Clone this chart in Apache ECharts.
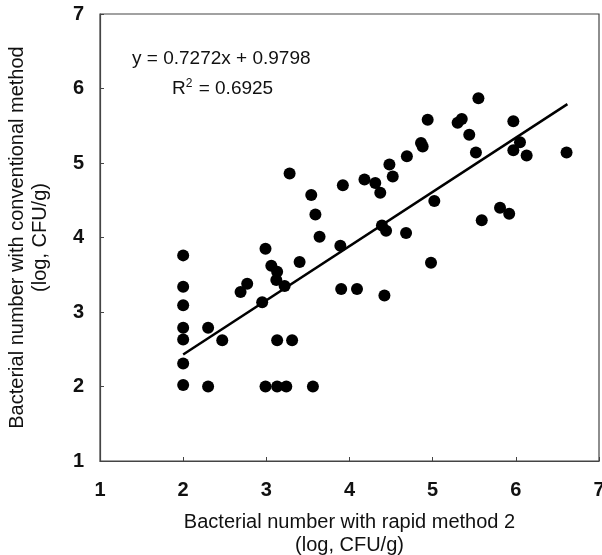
<!DOCTYPE html>
<html>
<head>
<meta charset="utf-8">
<script src="https://cdn.jsdelivr.net/npm/echarts@6/dist/echarts.min.js"></script>
<style>html,body{margin:0;padding:0;background:#fff}#c{width:602px;height:555px}</style>
</head>
<body>
<div id="c"></div>
<script>
// Data
const rapidX = [2.00, 2.00, 2.00, 2.00, 2.00, 2.00, 2.00,
  2.30, 2.30, 2.47, 2.69, 2.77, 2.95, 2.99, 3.06, 3.13, 3.12, 3.22, 3.40,
  3.13, 3.31, 2.99, 3.13, 3.24, 3.56, 3.28, 3.54, 3.59, 3.64, 3.89, 3.90,
  4.09, 4.42, 3.92, 4.18, 4.31, 4.37, 4.39, 4.44, 4.48, 4.52, 4.68, 4.69,
  4.86, 4.88, 4.94, 4.98, 5.02, 5.30, 5.35, 5.44, 5.52, 5.55, 5.59, 5.81,
  5.92, 5.97, 5.97, 6.05, 6.13, 6.61];
const conventionalY = [3.76, 3.34, 3.09, 2.79, 2.63, 2.31, 2.02,
  2.79, 2.00, 2.62, 3.27, 3.38, 3.13, 3.85, 3.62, 3.54, 3.43, 3.35, 3.67,
  2.62, 2.62, 2.00, 2.00, 2.00, 2.00, 4.86, 4.57, 4.31, 4.01, 3.89, 3.31,
  3.31, 3.22, 4.70, 4.78, 4.73, 4.60, 4.16, 4.09, 4.98, 4.82, 4.06, 5.09,
  5.27, 5.22, 5.58, 3.66, 4.49, 5.54, 5.59, 5.38, 5.14, 5.87, 4.23, 4.40,
  4.32, 5.56, 5.17, 5.28, 5.10, 5.14];
const trendX = [2.00, 6.62];
const trendY = [2.43, 5.79];
const xTicks = [1, 2, 3, 4, 5, 6, 7];
const yTicks = [1, 2, 3, 4, 5, 6, 7];
const equationText = 'y = 0.7272x + 0.9798';
const r2Text = 'R{sup|2} = 0.6925';
const xTitle = 'Bacterial number with rapid method 2\n(log, CFU/g)';
const yTitle = 'Bacterial number with conventional method\n(log, CFU/g)';

const points = rapidX.map((x, i) => [x, conventionalY[i]]);
const trend = trendX.map((x, i) => [x, trendY[i]]);

const chart = echarts.init(document.getElementById('c'), null, {renderer: 'canvas'});
const tickFont = {fontFamily: 'Liberation Sans Narrow, Liberation Sans, Arial', fontWeight: 'bold', fontSize: 20, color: '#111'};
const titleFont = {fontFamily: 'Liberation Sans, Arial', fontSize: 20, color: '#111', lineHeight: 23};

chart.setOption({
  animation: false,
  backgroundColor: '#fff',
  grid: {left: 100, right: 3, top: 14, bottom: 94, show: true, borderColor: '#444', borderWidth: 1.2,
         containLabel: false, outerBoundsMode: 'none'},
  xAxis: {
    type: 'value', min: xTicks[0], max: xTicks[xTicks.length - 1], interval: 1,
    splitLine: {show: false},
    axisLine: {lineStyle: {color: '#444', width: 1.2}},
    axisTick: {inside: true, length: 4, lineStyle: {color: '#444'}},
    axisLabel: Object.assign({margin: 19}, tickFont),
    name: xTitle, nameLocation: 'middle', nameGap: 50,
    nameTextStyle: titleFont
  },
  yAxis: {
    type: 'value', min: yTicks[0], max: yTicks[yTicks.length - 1], interval: 1,
    splitLine: {show: false},
    axisLine: {lineStyle: {color: '#444', width: 1.2}},
    axisTick: {inside: true, length: 4, lineStyle: {color: '#444'}},
    axisLabel: Object.assign({margin: 16}, tickFont),
    name: yTitle, nameLocation: 'middle', nameGap: 48, nameRotate: 90,
    nameTextStyle: titleFont
  },
  graphic: [
    {type: 'text', left: 132, top: 49, style: {text: equationText, font: '19px "Liberation Sans", Arial', fill: '#111'}},
    {type: 'text', left: 172, top: 78, style: {text: r2Text, font: '19px "Liberation Sans", Arial', fill: '#111',
      rich: {sup: {fontSize: 12, verticalAlign: 'top', padding: [0, 1, 9, 0], fontFamily: 'Liberation Sans'}}}}
  ],
  series: [
    {type: 'line', data: trend, symbol: 'none', lineStyle: {color: '#000', width: 2.5}, z: 2, silent: true},
    {type: 'scatter', data: points, symbol: 'circle', symbolSize: 12, itemStyle: {color: '#000', opacity: 1}, z: 3}
  ]
});
</script>
</body>
</html>
